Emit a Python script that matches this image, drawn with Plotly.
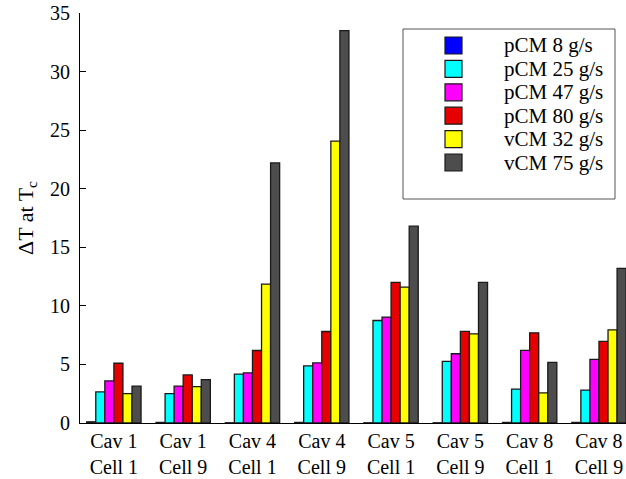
import plotly.graph_objects as go

categories = ["Cav 1<br>Cell 1", "Cav 1<br>Cell 9", "Cav 4<br>Cell 1", "Cav 4<br>Cell 9",
              "Cav 5<br>Cell 1", "Cav 5<br>Cell 9", "Cav 8<br>Cell 1", "Cav 8<br>Cell 9"]
series_names = ["pCM 8 g/s", "pCM 25 g/s", "pCM 47 g/s", "pCM 80 g/s", "vCM 32 g/s", "vCM 75 g/s"]
pcm8 = [0.1, 0.05, 0.02, 0.05, 0.02, 0.02, 0.05, 0.05]
pcm25 = [2.65, 2.5, 4.17, 4.88, 8.75, 5.26, 2.9, 2.81]
pcm47 = [3.6, 3.15, 4.28, 5.13, 9.04, 5.91, 6.2, 5.43]
pcm80 = [5.1, 4.1, 6.19, 7.81, 12.0, 7.82, 7.7, 6.96]
vcm32 = [2.5, 3.1, 11.86, 24.06, 11.6, 7.61, 2.58, 7.95]
vcm75 = [3.15, 3.7, 22.2, 33.5, 16.8, 12.0, 5.17, 13.2]
y_ticks = [0, 5, 10, 15, 20, 25, 30, 35]

series_values = [pcm8, pcm25, pcm47, pcm80, vcm32, vcm75]
colors = ["#0000ff", "#00ffff", "#ff00ff", "#e60000", "#ffff00", "#4d4d4d"]

font_family = "Liberation Serif, Times New Roman, serif"

W, H = 626, 479
ML, MR, MT, MB = 80, 0, 13, 56
PW, PH = W - ML - MR, H - MT - MB


def px_x(x):
    return (x - ML) / PW


def px_y(y):
    return (H - MB - y) / PH


fig = go.Figure()
for name, vals, col in zip(series_names, series_values, colors):
    fig.add_trace(go.Bar(
        x=categories, y=vals, name=name,
        marker=dict(color=col, line=dict(color="#1a1a1a", width=1.3)),
    ))

# legend box drawn as a framed panel with swatches and real text
shapes = [dict(type="rect", xref="paper", yref="paper",
               x0=px_x(403), x1=px_x(615), y0=px_y(199), y1=px_y(29),
               fillcolor="white", line=dict(color="#555555", width=1), layer="above")]
annotations = []
row0, row_step = 45.5, 23.4
for i, (name, col) in enumerate(zip(series_names, colors)):
    yc = row0 + i * row_step
    shapes.append(dict(type="rect", xref="paper", yref="paper",
                       x0=px_x(445), x1=px_x(462), y0=px_y(yc + 8.5), y1=px_y(yc - 8.5),
                       fillcolor=col, line=dict(color="#1a1a1a", width=1.2), layer="above"))
    annotations.append(dict(xref="paper", yref="paper", x=px_x(502), y=px_y(yc),
                            xanchor="left", yanchor="middle", showarrow=False,
                            text=name, font=dict(size=21, family=font_family, color="black")))

fig.update_layout(
    width=W, height=H,
    barmode="group", bargap=0.216, bargroupgap=0,
    plot_bgcolor="white", paper_bgcolor="white",
    margin=dict(l=ML, r=MR, t=MT, b=MB, autoexpand=False),
    font=dict(family=font_family, color="black", size=20),
    showlegend=False,
    shapes=shapes,
    annotations=annotations,
)
fig.update_xaxes(
    type="category", range=[-0.489, 7.39], automargin=False,
    showline=True, linecolor="black", linewidth=1,
    ticks="", showgrid=False, zeroline=False,
    tickfont=dict(size=20, family=font_family),
    ticklabeloverflow="allow",
)
fig.update_yaxes(
    range=[0, 35], tickvals=y_ticks, automargin=False,
    showline=True, linecolor="black", linewidth=1,
    ticks="inside", ticklen=6, tickcolor="black",
    showgrid=False, zeroline=False,
    tickfont=dict(size=20, family=font_family),
    ticklabelstandoff=5, ticklabeloverflow="allow",
    title=dict(text="ΔT at T<sub>c</sub>", font=dict(size=22, family=font_family), standoff=10),
)

# remove the page's default body margin so the 626x479 figure fills the window exactly
fig.write_html("out.html", config={"displayModeBar": False},
               post_script="document.body.style.margin='0';document.body.style.overflow='hidden';")
